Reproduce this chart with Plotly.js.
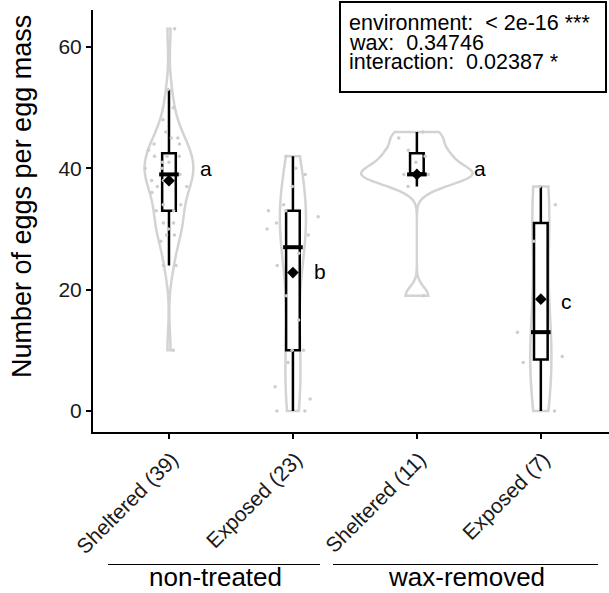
<!DOCTYPE html>
<html><head><meta charset="utf-8">
<script src="https://cdn.plot.ly/plotly-3.0.1.min.js"></script>
<style>html,body{margin:0;padding:0;background:#fff}#chart{width:609px;height:593px}</style>
</head><body><div id="chart"></div>
<script>
// ---- data ----
const categories = ['Sheltered (39)', 'Exposed (23)', 'Sheltered (11)', 'Exposed (7)'];
const treatments = ['non-treated', 'wax-removed'];
const shelteredNT = [10, 24, 24, 28, 29, 29, 30, 31, 31, 33, 33, 34, 34, 36, 37, 37, 38, 38, 39, 39,
                     39, 39, 40, 40, 41, 41, 42, 42, 42, 43, 44, 44, 45, 45, 46, 48, 50, 53, 63];
const exposedNT = [0, 0, 2, 4, 8, 10, 10, 15, 19, 24, 26, 27, 29, 30, 31, 32, 33, 33, 34, 37, 39, 40, 42];
const shelteredWR = [19, 37, 39, 39, 39, 39, 41, 42, 43, 45, 46];
const exposedWR = [0, 8, 9, 13, 28, 34, 37];
const letters = ['a', 'b', 'a', 'c'];
const letterY = [40, 23, 40, 18];
const statLines = ['environment:  < 2e-16 ***', 'wax:  0.34746', 'interaction:  0.02387 *'];
const groups = [shelteredNT, exposedNT, shelteredWR, exposedWR];

// ---- helpers ----
function sorted(a) { return [...a].sort((p, q) => p - q); }
function q7(a, p) { const s = sorted(a); const h = (s.length - 1) * p; const lo = Math.floor(h), hi = Math.ceil(h); return s[lo] + (h - lo) * (s[hi] - s[lo]); }
function mean(a) { return a.reduce((s, v) => s + v, 0) / a.length; }
function sd(a) { const m = mean(a); return Math.sqrt(a.reduce((s, v) => s + (v - m) * (v - m), 0) / (a.length - 1)); }
function bwNrd0(a) { const iqr = q7(a, 0.75) - q7(a, 0.25); return 0.9 * Math.min(sd(a), iqr / 1.34) * Math.pow(a.length, -0.2); }
function maxKDE(a) {
  const bw = bwNrd0(a), lo = Math.min(...a), hi = Math.max(...a);
  let best = 0;
  for (let k = 0; k <= 512; k++) {
    const x = lo + (hi - lo) * k / 512;
    let s = 0;
    for (const v of a) { const z = (x - v) / bw; s += Math.exp(-0.5 * z * z); }
    best = Math.max(best, s / (a.length * bw * Math.sqrt(2 * Math.PI)));
  }
  return best;
}
const nbsp = s => s.replace(/  /g, ' \u00a0');

const FONT = 'Liberation Sans, Arial, Helvetica, sans-serif';
const traces = [];
const letterDx = [0.30, 0.22, 0.51, 0.21];
const peaks = groups.map(maxKDE);
const peakMax = Math.max(...peaks);

groups.forEach((g, i) => {
  traces.push({
    type: 'violin', x: g.map(() => i), y: g, width: 0.9 * peaks[i] / peakMax, scalemode: 'width',
    spanmode: 'hard', bandwidth: bwNrd0(g), points: false, box: {visible: false}, meanline: {visible: false},
    line: {color: '#d3d3d3', width: 2.5}, fillcolor: 'rgba(255,255,255,0)', hoverinfo: 'skip', showlegend: false
  });
});
groups.forEach((g, i) => {
  traces.push({
    type: 'box', x: g.map(() => i), y: g, width: 0.11, boxpoints: 'outliers', quartilemethod: 'inclusive',
    marker: {opacity: 0, size: 1}, whiskerwidth: 0, fillcolor: '#ffffff', line: {color: '#000000', width: 2.5},
    hoverinfo: 'skip', showlegend: false
  });
});
groups.forEach((g, i) => {
  traces.push({
    type: 'box', x: g.map(() => i), y: g, width: 0.46, boxpoints: 'all', jitter: 1, pointpos: 0,
    quartilemethod: 'inclusive', whiskerwidth: 0, fillcolor: 'rgba(0,0,0,0)', line: {color: 'rgba(0,0,0,0)', width: 0},
    marker: {color: '#cdcdcd', size: 3.5}, hoverinfo: 'skip', showlegend: false
  });
});
traces.push({
  type: 'scatter', mode: 'markers', x: groups.map((g, i) => i), y: groups.map(g => q7(g, 0.5)),
  marker: {symbol: 'line-ew', size: 14, line: {color: '#000', width: 4}}, hoverinfo: 'skip', showlegend: false
});
traces.push({
  type: 'scatter', mode: 'markers', x: groups.map((g, i) => i), y: groups.map(g => mean(g)),
  marker: {symbol: 'diamond', size: 9, color: '#000'}, hoverinfo: 'skip', showlegend: false
});

// pixel -> paper helpers (plot area 93..609 x 10..432)
const px = v => (v - 93) / 516;
const py = v => (432 - v) / 422;

const annotations = [];
letters.forEach((t, i) => annotations.push({
  x: i + letterDx[i], y: letterY[i], xref: 'x', yref: 'y', text: t, showarrow: false,
  font: {family: FONT, size: 21, color: '#000'}, xanchor: 'center', yanchor: 'middle'
}));
[23.5, 43, 62.5].forEach((yy, k) => annotations.push({
  x: px(347), y: py(yy), xref: 'paper', yref: 'paper', text: nbsp(statLines[k]), showarrow: false,
  font: {family: FONT, size: 21.5, color: '#000'}, xanchor: 'left', yanchor: 'middle'
}));
annotations.push({
  x: px(22), y: py(197), xref: 'paper', yref: 'paper', text: 'Number of eggs per egg mass', textangle: -90,
  showarrow: false, font: {family: FONT, size: 27, color: '#000'}, xanchor: 'center', yanchor: 'middle'
});
[[215, treatments[0]], [466, treatments[1]]].forEach(([cx, t]) => annotations.push({
  x: px(cx), y: py(577), xref: 'paper', yref: 'paper', text: t, showarrow: false,
  font: {family: FONT, size: 26, color: '#000'}, xanchor: 'center', yanchor: 'middle'
}));

const shapes = [
  {type: 'rect', xref: 'paper', yref: 'paper', x0: px(340), x1: px(606), y0: py(92), y1: py(2), line: {color: '#000', width: 2}},
  {type: 'line', xref: 'paper', yref: 'paper', x0: px(108), x1: px(320), y0: py(564.5), y1: py(564.5), line: {color: '#000', width: 1}},
  {type: 'line', xref: 'paper', yref: 'paper', x0: px(333), x1: px(598), y0: py(564.5), y1: py(564.5), line: {color: '#000', width: 1}}
];

const layout = {
  width: 609, height: 593, margin: {l: 93, r: 0, t: 10, b: 161}, paper_bgcolor: '#fff', plot_bgcolor: '#fff',
  showlegend: false, boxmode: 'overlay', violinmode: 'overlay',
  font: {family: FONT, color: '#000'},
  xaxis: {range: [-0.613, 3.55], tickvals: [0, 1, 2, 3], ticktext: categories, tickangle: -45, ticklabelshift: 3,
          showline: true, linewidth: 2, linecolor: '#000', ticks: 'outside', ticklen: 5, tickwidth: 2, tickcolor: '#000',
          showgrid: false, zeroline: false, tickfont: {family: FONT, size: 21, color: '#1a1a1a'}},
  yaxis: {range: [-3.46, 66.1], tickvals: [0, 20, 40, 60], showline: true, linewidth: 2, linecolor: '#000',
          ticks: 'outside', ticklen: 5, tickwidth: 2, tickcolor: '#000', showgrid: false, zeroline: false,
          tickfont: {family: FONT, size: 21, color: '#1a1a1a'}},
  annotations: annotations, shapes: shapes
};
Plotly.newPlot('chart', traces, layout, {staticPlot: true, displayModeBar: false});
</script></body></html>
